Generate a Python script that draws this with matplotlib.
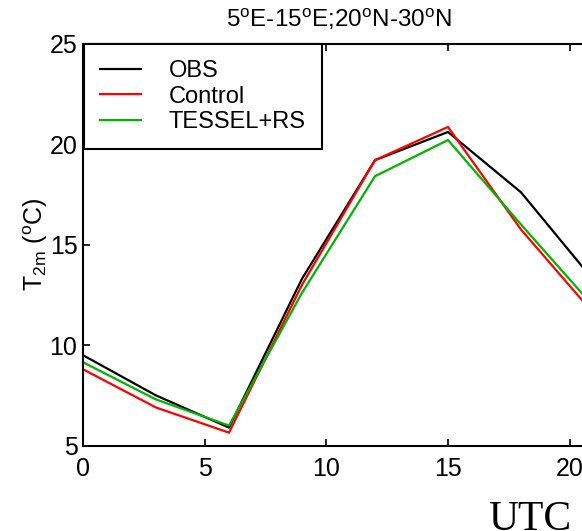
import numpy as np
import matplotlib.pyplot as plt

plt.rcParams['font.family'] = 'Liberation Sans'
plt.rcParams['mathtext.fontset'] = 'custom'
plt.rcParams['mathtext.rm'] = 'Liberation Sans'
plt.rcParams['mathtext.it'] = 'Liberation Sans:italic'

# hours (UTC) and 2 m temperature, degC
hours = [0, 3, 6, 9, 12, 15, 18, 21]
obs = [9.5, 7.5, 5.9, 13.3, 19.2, 20.6, 17.6, 13.2]
control = [8.8, 6.9, 5.65, 13.0, 19.2, 20.85, 15.75, 11.55]
tessel = [9.15, 7.3, 6.0, 12.6, 18.4, 20.2, 16.0, 11.9]

names = ['OBS', 'Control', 'TESSEL+RS']
colors = ['k', '#ff0000', '#00b400']

fig = plt.figure(figsize=[5.82, 5.31], dpi=100)
ax = fig.add_axes([83/582, 1 - 445.7/531, 511/582, 402.2/531])

for y, name, c in zip([obs, control, tessel], names, colors):
    ax.plot(hours, y, color=c, linewidth=1.6, label=name)

ax.set_xlim(0, 21)
ax.set_ylim(5, 25)
ax.set_xticks([0, 5, 10, 15, 20])
ax.set_yticks([5, 10, 15, 20, 25])
ax.tick_params(direction='in', length=5, width=1.2, top=True, right=True, labelsize=18)
ax.tick_params(axis='x', pad=8)
ax.tick_params(axis='y', pad=4)
for s in ax.spines.values():
    s.set_linewidth(1.5)

ax.set_title(r'5$^{\rm o}$E-15$^{\rm o}$E;20$^{\rm o}$N-30$^{\rm o}$N', fontsize=17.5, pad=12)
ax.set_ylabel(r'T$_{\rm 2m}$ ($^{\rm o}$C)', fontsize=18, labelpad=0)

leg = ax.legend(loc='upper left', bbox_to_anchor=(84/582, 1 - 44/531), bbox_transform=fig.transFigure,
                fontsize=17, fancybox=False, framealpha=1, edgecolor='k', borderaxespad=0,
                handlelength=1.75, handletextpad=1.15, labelspacing=0.15, borderpad=0.68)
leg.get_frame().set_linewidth(1.5)

fig.text(530/582, 1/531, 'UTC', family='Liberation Serif', fontsize=30, ha='center', va='baseline')

fig.savefig('out.png', dpi=100)
